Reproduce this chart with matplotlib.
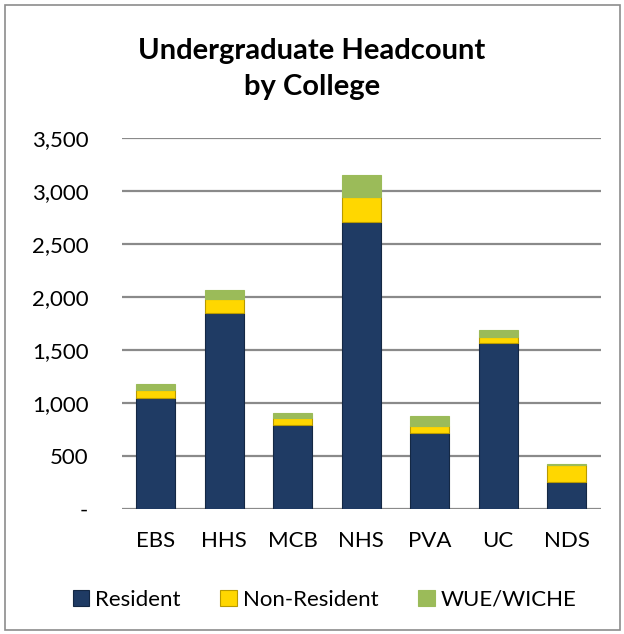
import numpy as np
import matplotlib.pyplot as plt
from matplotlib.patches import Rectangle
from matplotlib.ticker import FuncFormatter

plt.rcParams['font.family'] = ['Lato', 'DejaVu Sans']

colleges = ['EBS', 'HHS', 'MCB', 'NHS', 'PVA', 'UC', 'NDS']
resident = [1045, 1850, 790, 2710, 715, 1565, 260]
non_resident = [75, 130, 65, 235, 70, 60, 155]
wue_wiche = [65, 90, 55, 205, 90, 65, 15]

fig = plt.figure(figsize=(6.24, 6.34), dpi=100)
fig.patches.append(Rectangle((0.008, 0.006), 0.986, 0.986, transform=fig.transFigure,
                             fill=False, edgecolor='#8c8c8c', linewidth=1.2))

ax = fig.add_axes([0.195, 0.197, 0.768, 0.585])
x = np.arange(len(colleges))
w = 0.57
res = np.array(resident)
nr = np.array(non_resident)
wue = np.array(wue_wiche)

ax.bar(x, res, w, color='#1F3B64', edgecolor='#142844', linewidth=0.8, label='Resident', zorder=3)
ax.bar(x, nr, w, bottom=res, color='#FFD700', edgecolor='#B89A00', linewidth=0.8,
       label='Non-Resident', zorder=3)
ax.bar(x, wue, w, bottom=res + nr, color='#9BBB59', edgecolor='#9BBB59', linewidth=0.8,
       label='WUE/WICHE', zorder=3)

ax.set_xlim(-0.5, len(colleges) - 0.5)
ax.set_ylim(0, 3500)
ax.set_yticks(np.arange(0, 3501, 500))
ax.yaxis.set_major_formatter(FuncFormatter(lambda v, p: '-' if v == 0 else f'{int(v):,}'))
ax.set_xticks(x)
ax.set_xticklabels(colleges)
ax.grid(axis='y', color='#8a8a8a', linewidth=1.6, zorder=0)
for s in ax.spines.values():
    s.set_visible(False)
ax.tick_params(axis='both', length=0, labelsize=16, colors='black')
ax.tick_params(axis='y', pad=24)
ax.tick_params(axis='x', pad=16)

fig.text(0.5, 0.891, 'Undergraduate Headcount\nby College', ha='center', va='center',
         fontsize=21, fontweight='bold', linespacing=1.5)

fig.legend(loc='center', bbox_to_anchor=(0.52, 0.054), ncol=3, frameon=False,
           fontsize=16, handlelength=0.75, handleheight=0.75, handletextpad=0.25,
           columnspacing=1.8)

fig.savefig('out.png', dpi=100)
